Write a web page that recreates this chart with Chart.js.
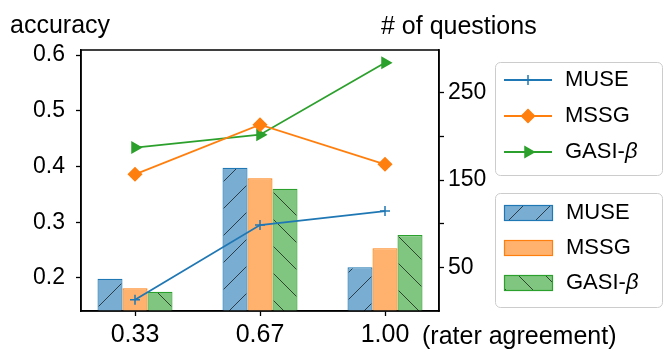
<!DOCTYPE html>
<html>
<head>
<meta charset="utf-8">
<script src="https://cdn.jsdelivr.net/npm/chart.js@4.4.0/dist/chart.umd.min.js"></script>
<style>
  body { margin: 0; background: #fff; }
  #wrap { width: 664px; height: 361px; position: relative; }
</style>
</head>
<body>
<div id="wrap"><canvas id="chart"></canvas></div>
<script>
// data
const raterAgreement = ['0.33', '0.67', '1.00'];
const accMUSE = [0.161, 0.295, 0.320];
const accMSSG = [0.386, 0.475, 0.404];
const accGASI = [0.434, 0.457, 0.586];
const qMUSE = [37, 164, 50];
const qMSSG = [26, 152, 72];
const qGASI = [22, 140, 87];
const accTicks = [0.2, 0.3, 0.4, 0.5, 0.6];
const qTicks = [50, 100, 150, 200, 250];
const qLabels = [50, 150, 250];

const FONT = '"Liberation Sans", Arial, sans-serif';
const blue = '#1f77b4', orange = '#ff7f0e', green = '#2ca02c';
const blueFill = '#79add2', orangeFill = '#ffb26e', greenFill = '#80c680';

// hatch pattern like matplotlib '/' and '\'
function hatch(fill, dir) {
  const size = 27;
  const c = document.createElement('canvas');
  c.width = size; c.height = size;
  const g = c.getContext('2d');
  g.fillStyle = fill;
  g.fillRect(0, 0, size, size);
  g.strokeStyle = 'rgba(0,0,0,0.65)';
  g.lineWidth = 1;
  g.beginPath();
  for (const o of [-size, 0, size]) {
    if (dir === '/') { g.moveTo(o, size); g.lineTo(o + size, 0); }
    else { g.moveTo(o, 0); g.lineTo(o + size, size); }
  }
  g.stroke();
  return g.createPattern(c, 'repeat');
}
const blueHatch = hatch(blueFill, '/');
const greenHatch = hatch(greenFill, '\\');

const pts = arr => arr.map((y, i) => ({ x: i, y: y }));

function lineSet(label, data, color, style, radius, rot) {
  return {
    type: 'line', label: label, data: pts(data), yAxisID: 'y', order: 1,
    borderColor: color, backgroundColor: color, borderWidth: 1.8,
    pointStyle: style, pointRadius: radius, pointRotation: rot || 0,
    pointBorderWidth: 1.5, pointBackgroundColor: color, pointBorderColor: color,
    fill: false, tension: 0
  };
}
function barSet(label, data, fill, edge) {
  return {
    type: 'bar', label: label, data: pts(data), yAxisID: 'y1', order: 2,
    backgroundColor: fill, borderColor: edge, borderWidth: 1.2,
    categoryPercentage: 0.6, barPercentage: 1
  };
}

const tickFont = { family: FONT, size: 23 };

const decor = {
  id: 'decor',
  afterDraw(chart) {
    const ctx = chart.ctx;
    const a = chart.chartArea;
    ctx.save();
    // frame
    ctx.strokeStyle = '#000';
    ctx.lineWidth = 1.5;
    ctx.strokeRect(a.left, a.top, a.right - a.left, a.bottom - a.top);

    // axis labels
    ctx.fillStyle = '#000';
    ctx.textBaseline = 'alphabetic';
    ctx.textAlign = 'left';
    ctx.font = '25px ' + FONT;
    ctx.fillText('accuracy', 10, 33);
    ctx.fillText('# of questions', 381, 34);
    ctx.fillText('(rater agreement)', 422, 344);

    // legend boxes
    function box(x, y, w, h) {
      ctx.beginPath();
      ctx.roundRect(x, y, w, h, 5);
      ctx.fillStyle = 'rgba(255,255,255,0.8)';
      ctx.fill();
      ctx.strokeStyle = '#cccccc';
      ctx.lineWidth = 1;
      ctx.stroke();
    }
    function label(text, x, y) {
      ctx.fillStyle = '#000';
      ctx.textBaseline = 'middle';
      ctx.textAlign = 'left';
      ctx.font = '22px ' + FONT;
      if (text.endsWith('β')) {
        const head = text.slice(0, -1);
        ctx.fillText(head, x, y);
        const w = ctx.measureText(head).width;
        ctx.font = 'italic 22px ' + FONT;
        ctx.fillText('β', x + w, y);
      } else {
        ctx.fillText(text, x, y);
      }
    }

    box(495.5, 62.5, 167, 113);
    const lineItems = chart.data.datasets.filter(d => d.type === 'line');
    const ly = [80, 116, 152];
    lineItems.forEach((d, i) => {
      ctx.strokeStyle = d.borderColor;
      ctx.lineWidth = 1.8;
      ctx.beginPath();
      ctx.moveTo(504, ly[i]);
      ctx.lineTo(552, ly[i]);
      ctx.stroke();
      ctx.fillStyle = d.borderColor;
      ctx.lineWidth = 1.5;
      Chart.helpers.drawPoint(ctx, {
        pointStyle: d.pointStyle, radius: d.pointRadius,
        rotation: d.pointRotation, borderWidth: 1.5
      }, 528, ly[i]);
      label(d.label, 565, ly[i]);
    });

    box(495.5, 193.5, 167, 114);
    const barItems = chart.data.datasets.filter(d => d.type === 'bar');
    const by = [213, 248, 283];
    barItems.forEach((d, i) => {
      ctx.fillStyle = d.backgroundColor;
      ctx.fillRect(504, by[i] - 8, 49, 16);
      ctx.strokeStyle = d.borderColor;
      ctx.lineWidth = 1.2;
      ctx.strokeRect(504.5, by[i] - 7.5, 48, 15);
      label(d.label, 566, by[i]);
    });
    ctx.restore();
  }
};

new Chart(document.getElementById('chart'), {
  type: 'bar',
  data: {
    datasets: [
      lineSet('MUSE', accMUSE, blue, 'cross', 5),
      lineSet('MSSG', accMSSG, orange, 'rectRot', 6.5),
      lineSet('GASI-β', accGASI, green, 'triangle', 6, 90),
      barSet('MUSE', qMUSE, blueHatch, blue),
      barSet('MSSG', qMSSG, orangeFill, orange),
      barSet('GASI-β', qGASI, greenHatch, green)
    ]
  },
  options: {
    responsive: true,
    maintainAspectRatio: false,
    animation: false,
    layout: { padding: { top: 50, left: 0, right: 0, bottom: 0 } },
    plugins: {
      legend: { display: false },
      tooltip: { enabled: false }
    },
    scales: {
      x: {
        type: 'linear',
        min: -0.432,
        max: 2.432,
        offset: false,
        afterBuildTicks: s => { s.ticks = raterAgreement.map((_, i) => ({ value: i })); },
        afterFit: s => { s.height = 50; },
        grid: { offset: false, drawOnChartArea: false, tickLength: 5, tickColor: '#000', tickWidth: 1.3 },
        border: { color: '#000', width: 1.5 },
        ticks: {
          color: '#000', font: { family: FONT, size: 25 }, padding: 4, maxRotation: 0,
          callback: v => raterAgreement[v]
        }
      },
      y: {
        position: 'left',
        min: 0.1408,
        max: 0.609,
        afterBuildTicks: s => { s.ticks = accTicks.map(v => ({ value: v })); },
        afterFit: s => { s.width = 81; },
        grid: { drawOnChartArea: false, tickLength: 5, tickColor: '#000', tickWidth: 1.3 },
        border: { color: '#000', width: 1.5 },
        ticks: { color: '#000', font: tickFont, padding: 11, callback: v => v.toFixed(1) }
      },
      y1: {
        position: 'right',
        min: 0,
        max: 299,
        afterBuildTicks: s => { s.ticks = qTicks.map(v => ({ value: v })); },
        afterFit: s => { s.width = 225; },
        grid: { drawOnChartArea: false, tickLength: 5, tickColor: '#000', tickWidth: 1.3 },
        border: { color: '#000', width: 1.5 },
        ticks: { color: '#000', font: tickFont, padding: 4, callback: v => qLabels.includes(v) ? String(v) : '' }
      }
    }
  },
  plugins: [decor]
});
</script>
</body>
</html>
